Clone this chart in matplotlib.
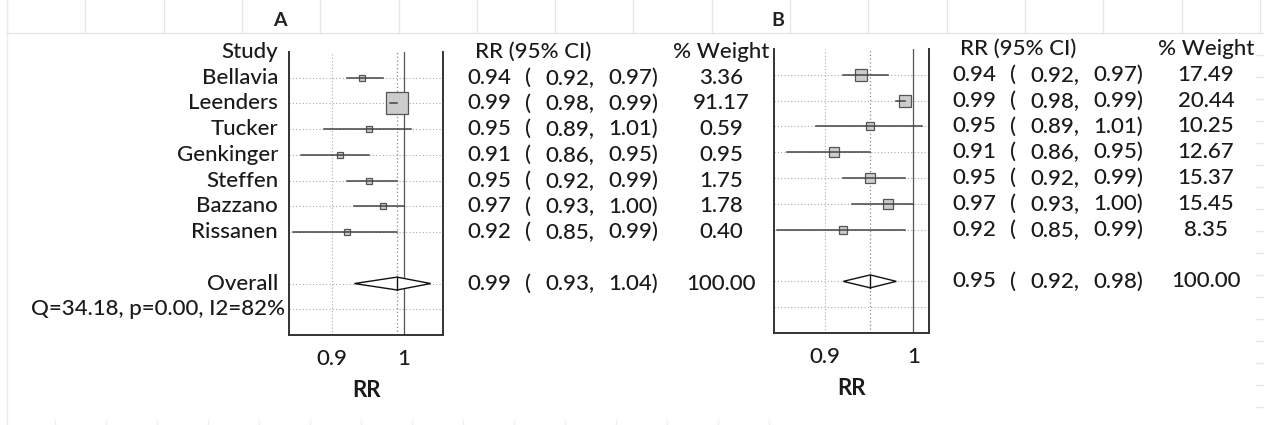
import numpy as np
import matplotlib
matplotlib.use("Agg")
import matplotlib.pyplot as plt
from matplotlib import transforms
from matplotlib.patches import Polygon

plt.rcParams['font.family'] = ['Lato', 'DejaVu Sans']

# data
studies = ["Bellavia", "Leenders", "Tucker", "Genkinger", "Steffen", "Bazzano", "Rissanen"]
rr = [0.94, 0.99, 0.95, 0.91, 0.95, 0.97, 0.92]
rr_lo = [0.92, 0.98, 0.89, 0.86, 0.92, 0.93, 0.85]
rr_hi = [0.97, 0.99, 1.01, 0.95, 0.99, 1.00, 0.99]
weight_a = [3.36, 91.17, 0.59, 0.95, 1.75, 1.78, 0.40]
weight_b = [17.49, 20.44, 10.25, 12.67, 15.37, 15.45, 8.35]
overall_a = (0.99, 0.93, 1.04)
overall_b = (0.95, 0.92, 0.98)
het_a = "Q=34.18, p=0.00, I2=82%"
xticks = [0.9, 1.0]
xticklabels = ["0.9", "1"]

W, H = 1264, 425
fig = plt.figure(figsize=(W / 100, H / 100), dpi=100)
fig.patch.set_facecolor("white")

# spreadsheet background in pixel coordinates
bg = fig.add_axes([0, 0, 1, 1], zorder=0)
bg.set_xlim(0, W)
bg.set_ylim(H, 0)
bg.axis("off")
gridc = "#e6e6e6"
for k in range(17):
    x = 7 + 78.3 * k
    bg.plot([x, x], [0, 33], color=gridc, lw=1)
bg.plot([7, 7], [0, H], color="#eeeeee", lw=1)
bg.plot([7, W], [33, 33], color=gridc, lw=1)
for y in np.arange(55, 420, 22):
    bg.plot([1256, W], [y, y], color="#e8e8e8", lw=1)
for x in np.arange(55, 800, 51):
    bg.plot([x, x], [420, H], color="#f0f0f0", lw=1)
bg.text(280, 20, "A", ha="center", va="center", fontsize=14, fontweight="bold", color="#222")
bg.text(778, 20, "B", ha="center", va="center", fontsize=14, fontweight="bold", color="#222")

fs = 16
tc = "#1a1a1a"
fw = 500


def forest(left, right, top, bottom, weights, overall, side_max, wmax, xlim, cols, labels):
    ax = fig.add_axes([left / W, 1 - bottom / H, (right - left) / W, (bottom - top) / H], zorder=2)
    ax.set_xscale("log")
    ax.set_xlim(*xlim)
    ax.set_ylim(11, 0)
    ax.set_facecolor("none")
    for s in ["left", "right", "bottom"]:
        ax.spines[s].set_color("#333")
        ax.spines[s].set_linewidth(1.4)
    ax.spines["top"].set_visible(False)
    ax.set_yticks([])
    ax.xaxis.set_minor_locator(matplotlib.ticker.NullLocator())
    ax.set_xticks(xticks)
    ax.set_xticklabels(xticklabels, fontsize=fs, color=tc, fontweight=fw)
    ax.tick_params(axis="x", length=0, pad=10)
    ax.set_xlabel("RR", fontsize=fs, fontweight="bold", color=tc, labelpad=8)

    rows = np.arange(1, len(studies) + 1)
    orow = len(studies) + 2
    # grid
    for r in list(rows) + [orow, orow + 1]:
        ax.axhline(r, color="#aaaaaa", lw=0.8, ls=(0, (1, 2)), zorder=1)
    ax.axvline(0.9, color="#aaaaaa", lw=0.8, ls=(0, (1, 2)), zorder=1)
    ax.axvline(overall[0], color="#888888", lw=0.9, ls=(0, (1, 2)), zorder=1)
    ax.axvline(1.0, color="#555555", lw=0.9, zorder=1)

    for i, r in enumerate(rows):
        ax.plot([rr_lo[i], rr_hi[i]], [r, r], color="#444", lw=1.1, zorder=3)
        side = max(5.5, side_max * np.sqrt(weights[i] / wmax))
        ax.plot(rr[i], r, marker="s", ms=side * 0.72, mfc="#cccccc", mec="#555", mew=0.9, zorder=2)

    est, lo, hi = overall
    dia = Polygon([[lo, orow], [est, orow - 0.25], [hi, orow], [est, orow + 0.25]],
                  closed=True, fc="white", ec="#111", lw=1.0, zorder=3)
    ax.add_patch(dia)
    ax.plot([est, est], [orow - 0.25, orow + 0.25], color="#111", lw=1.0, zorder=4)

    tr = transforms.blended_transform_factory(bg.transData, ax.transData)
    x0, xw = cols
    kw = dict(transform=tr, fontsize=fs, color=tc, va="center", clip_on=False, fontweight=fw)
    if labels:
        ax.text(278, 0, "Study", ha="right", **kw)
        for i, r in enumerate(rows):
            ax.text(278, r, studies[i], ha="right", **kw)
        ax.text(278, orow, "Overall", ha="right", **kw)
        ax.text(285, orow + 1, het_a, ha="right", **kw)
    ax.text(x0 + 8, 0, "RR (95% CI)", ha="left", **kw)
    ax.text(xw, 0, "% Weight", ha="center", **kw)
    vals = list(zip(rr, rr_lo, rr_hi)) + [overall]
    wts = list(weights) + [100.0]
    for (e, l, h), r, w in zip(vals, list(rows) + [orow], wts):
        ax.text(x0, r, f"{e:.2f}", ha="left", **kw)
        ax.text(x0 + 58, r, "(", ha="left", **kw)
        ax.text(x0 + 78, r, f"{l:.2f},", ha="left", **kw)
        ax.text(x0 + 141, r, f"{h:.2f})", ha="left", **kw)
        ax.text(xw, r, f"{w:.2f}", ha="center", **kw)
    return ax


forest(289, 443, 52, 335, weight_a, overall_a, 22, max(weight_a), (0.845, 1.059),
       (467, 721), True)
forest(774, 929, 49, 333, weight_b, overall_b, 12, max(weight_b), (0.847, 1.019),
       (952, 1206), False)

fig.savefig("out.png", dpi=100, facecolor="white")
